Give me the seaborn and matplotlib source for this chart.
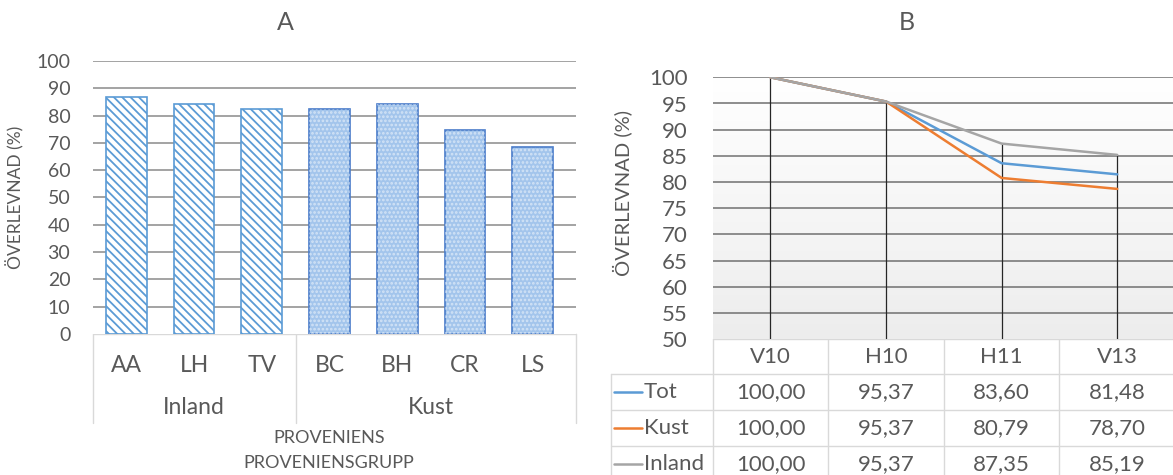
import numpy as np
import pandas as pd
import matplotlib
matplotlib.use("Agg")
import matplotlib.pyplot as plt
import seaborn as sns
from matplotlib.transforms import blended_transform_factory
from matplotlib.colors import LinearSegmentedColormap
from matplotlib.patches import Rectangle

# ---------------- Data ----------------
prov_codes = ["AA", "LH", "TV", "BC", "BH", "CR", "LS"]
prov_groups = ["Inland", "Inland", "Inland", "Kust", "Kust", "Kust", "Kust"]
prov_survival = [86.8, 84.2, 82.3, 82.3, 84.2, 74.9, 68.6]
group_names = ["Inland", "Kust"]

periods = ["V10", "H10", "H11", "V13"]
tot_values = [100.00, 95.37, 83.60, 81.48]
kust_values = [100.00, 95.37, 80.79, 78.70]
inland_values = [100.00, 95.37, 87.35, 85.19]
series_names = ["Tot", "Kust", "Inland"]
series_colors = ["#5b9bd5", "#ed7d31", "#a5a5a5"]

# ---------------- Style ----------------
sns.set_theme(style="white")
plt.rcParams['font.family'] = ['Lato', 'DejaVu Sans']
plt.rcParams['hatch.linewidth'] = 1.3
TXT = "#595959"
TABLE = "#d9d9d9"

W, H = 1173, 475
fig = plt.figure(figsize=(W / 100, H / 100), dpi=100)


def rect(l, t, r, b):
    return [l / W, 1 - b / H, (r - l) / W, (b - t) / H]


ov = fig.add_axes([0, 0, 1, 1])
ov.set_xlim(0, W)
ov.set_ylim(H, 0)
ov.axis('off')

# ---------------- Panel A ----------------
axA = fig.add_axes(rect(92.5, 61, 576, 334))
dfA = pd.DataFrame({"code": prov_codes, "group": prov_groups, "val": prov_survival})
sns.barplot(data=dfA, x="code", y="val", order=prov_codes, width=0.6,
            color="white", saturation=1, errorbar=None, ax=axA, zorder=3)
axA.set_xlim(-0.5, 6.64)
axA.set_ylim(0, 100)
yticksA = list(range(0, 101, 10))
axA.set_yticks(yticksA)
for y in yticksA[1:]:
    axA.axhline(y, color="#8a8a8a", lw=1.1, zorder=1)
for sp in axA.spines.values():
    sp.set_visible(False)
axA.tick_params(axis='y', length=0, pad=16, labelsize=14, labelcolor=TXT)
axA.tick_params(axis='x', length=0, labelbottom=False)
axA.set_xlabel("")
axA.set_ylabel("")

for patch, grp in zip(axA.patches, prov_groups):
    if grp == "Inland":
        patch.set_facecolor("white")
        patch.set_edgecolor("#5b9bd5")
        patch.set_hatch("\\\\\\\\")
        patch.set_linewidth(1.2)
    else:
        patch.set_facecolor("#a3c5ec")
        patch.set_edgecolor("#4a7cc9")
        patch.set_linewidth(1.2)
        over = Rectangle((patch.get_x(), patch.get_y()), patch.get_width(), patch.get_height(),
                         facecolor="none", edgecolor="white", hatch="....", lw=0, zorder=3.5,
                         alpha=0.5)
        axA.add_patch(over)

trA = blended_transform_factory(axA.transData, ov.transData)
# category table lines
ov.plot([92.5, 576], [334, 334], color=TABLE, lw=1)
xA_right = axA.get_xlim()[1]
for xv in [-0.5, 2.5, xA_right]:
    ov.plot([xv, xv], [334, 422.7], color=TABLE, lw=1, transform=trA)
for i, c in enumerate(prov_codes):
    ov.text(i, 365, c, transform=trA, ha='center', va='center', fontsize=16.5, color=TXT)
for g in group_names:
    idx = [i for i, gg in enumerate(prov_groups) if gg == g]
    ov.text(np.mean(idx), 408, g, transform=trA, ha='center', va='center', fontsize=16.5, color=TXT)
ov.text(329, 438, "PROVENIENS", ha='center', va='center', fontsize=13, color=TXT)
ov.text(329, 463, "PROVENIENSGRUPP", ha='center', va='center', fontsize=13, color=TXT)
ov.text(15, 197, "ÖVERLEVNAD (%)", rotation=90, ha='center', va='center', fontsize=12.5, color=TXT)
ov.text(285, 22, "A", ha='center', va='center', fontsize=18, color=TXT)

# ---------------- Panel B ----------------
axB = fig.add_axes(rect(712.7, 77.3, 1175, 339.3))
rows = []
for s, vals in zip(series_names, [tot_values, kust_values, inland_values]):
    for p, v in zip(periods, vals):
        rows.append({"series": s, "period": p, "val": v})
dfB = pd.DataFrame(rows)

grad = np.linspace(0, 1, 256).reshape(-1, 1)
axB.imshow(grad, extent=(-0.5, 3.5, 50, 100), aspect='auto', origin='upper',
           cmap=LinearSegmentedColormap.from_list('g', ['#ffffff', '#ededed']), zorder=0)
yticksB = list(range(50, 101, 5))
for y in yticksB[1:]:
    axB.axhline(y, color="#707070", lw=1.1, zorder=1)
maxes = np.max([tot_values, kust_values, inland_values], axis=0)
axB.vlines(range(len(periods)), 50, maxes, color="#262626", lw=0.9, zorder=2)
sns.lineplot(data=dfB, x="period", y="val", hue="series", hue_order=series_names,
             palette=series_colors, sort=False, legend=False, lw=1.8, ax=axB, zorder=3)
axB.set_xlim(-0.5, 3.5)
axB.set_ylim(50, 100)
axB.set_yticks(yticksB)
for sp in axB.spines.values():
    sp.set_visible(False)
axB.tick_params(axis='y', length=0, pad=18, labelsize=16, labelcolor=TXT)
axB.tick_params(axis='x', length=0, labelbottom=False)
axB.set_xlabel("")
axB.set_ylabel("")

trB = blended_transform_factory(axB.transData, ov.transData)
# data table
ov.plot([712.7, W + 5], [339.3, 339.3], color=TABLE, lw=1)
for yl in [374, 410, 446.3]:
    ov.plot([610.7, W + 5], [yl, yl], color=TABLE, lw=1)
ov.plot([610.7, 610.7], [374, H + 5], color=TABLE, lw=1)
for xv in [-0.5, 0.5, 1.5, 2.5, 3.5]:
    ov.plot([xv, xv], [339.3, H + 5], color=TABLE, lw=1, transform=trB)
for i, p in enumerate(periods):
    ov.text(i, 356.7, p, transform=trB, ha='center', va='center', fontsize=16, color=TXT)
row_y = [392, 428, 464]
for s, c, vals, yy in zip(series_names, series_colors,
                          [tot_values, kust_values, inland_values], row_y):
    ov.plot([614, 642], [yy, yy], color=c, lw=1.8)
    ov.text(644, yy, s, ha='left', va='center', fontsize=16, color=TXT)
    for i, v in enumerate(vals):
        ov.text(i, yy, f"{v:.2f}".replace('.', ','), transform=trB, ha='center',
                va='center', fontsize=16, color=TXT)
ov.text(622, 193, "ÖVERLEVNAD (%)", rotation=90, ha='center', va='center', fontsize=14.5, color=TXT)
ov.text(907, 23, "B", ha='center', va='center', fontsize=18, color=TXT)

fig.savefig("out.png", dpi=100)
